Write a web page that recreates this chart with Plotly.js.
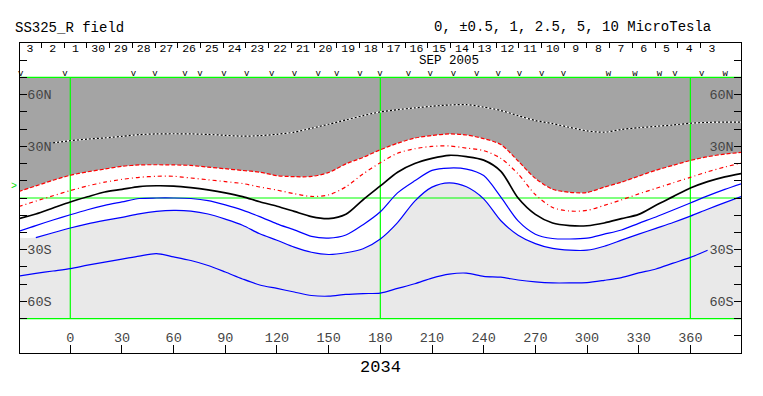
<!DOCTYPE html>
<html><head><meta charset="utf-8">
<script src="https://cdn.plot.ly/plotly-3.0.1.min.js"></script>
<style>html,body{margin:0;padding:0;background:#fff}</style>
</head><body><div id="chart" style="width:763px;height:396px"></div>
<script>
// ---- data (Carrington longitude in degrees, latitude in degrees) ----
const LON = [-30,-20,-10,0,10,20,30,40,50,60,70,80,90,100,110,120,130,140,150,160,170,180,190,200,210,220,230,240,250,260,270,280,290,300,310,320,330,340,350,360,370,380,390];
// +2.5 microTesla contour
const POS_25 = [null,null,32,33.3,34.2,34.9,35.8,36.8,37.2,37.3,37.2,36.9,36.4,35.9,36.2,37,38.2,40.5,42.8,45.3,47.8,50,51.3,52.3,53.3,54,54.2,52.8,50.8,47.8,45,43.2,41,39,38.2,39.8,40.8,41.6,42.4,43.4,43.9,44.1,44.1];
// +1 contour (edge of dark shading)
const POS_10 = [3.8,7,10.3,13.2,15.2,16.8,18.4,19.2,19.3,19.2,18.9,17.9,17,16,15,13,12.4,12.5,14.8,19.8,23.6,28,31.8,34.8,36.3,37.2,36.6,34.5,31,21.5,11.4,5.1,3.3,3.2,6.3,9.2,12.7,16.1,19,21.8,24,25.5,26.5];
// +0.5 contour
const POS_05 = [-5,-1.8,1.3,4.3,7,9.2,10.8,12,12.6,12.6,11.6,10.6,9.5,8.4,6.4,4.6,2.5,0.9,1.8,6.5,14,20.5,26,28.6,30,30.2,29,27.5,23,14,2,-5.5,-7.6,-7.2,-4.3,-1.1,2.4,5.6,8.8,12,15.2,18,20.4];
// neutral line
const ZERO = [-12,-9.3,-5.8,-2.3,0.7,3.5,5,6.6,7.1,6.9,6,4.7,3,0.8,-2.2,-4.8,-7.8,-10.8,-12,-9.5,-1,7,15,20,23,24.8,24,22,15.5,0,-9.5,-14.5,-16,-16.1,-14.5,-12,-9.5,-4.2,0.8,5.8,9.5,12.3,14.3];
// -0.5 contour
const NEG_05 = [-19.4,-16,-12.8,-9.7,-6.8,-4.3,-2.3,-0.3,0,0,-0.3,-1.5,-4,-7,-10.8,-15,-18.5,-22.3,-23.3,-21.5,-15.5,-8,3,10,16,17.4,16.8,13,0.5,-13.3,-21,-23.5,-23.8,-23.3,-21,-18.6,-14.7,-11,-7,-2.9,1.2,5,8.4];
// -1 contour (edge of light shading)
const NEG_10 = [null,-23,-20.2,-17.4,-15,-13,-11.2,-9.2,-7.8,-7.2,-7.6,-9.3,-12.3,-15.8,-20.8,-24.5,-28.5,-31.5,-32.8,-31.8,-29.5,-23.8,-14.3,-1.8,6.3,8.8,6.5,-0.5,-13.2,-21.6,-26.5,-29.3,-30.3,-30.3,-28,-24.5,-21,-17.6,-14.2,-10.5,-6.5,-2.7,1];
// -2.5 contour
const NEG_25 = [-45.3,-43.8,-42.4,-41,-39,-37.2,-35.5,-33.7,-32.3,-34.2,-36.3,-39.2,-43,-47,-50.5,-52.5,-54.6,-56.6,-57,-56,-55.5,-55.2,-52.5,-49.8,-46.5,-44.2,-43.6,-45.5,-46,-47.6,-48.7,-49.3,-49.3,-49.1,-47.8,-46.2,-43.5,-41.2,-37.8,-34.5,-30.3,null,-22.3];

// observation marks along the top strip
const OBS_LON  = [-28.8,-3.1,36.6,49.2,66.6,75.3,89.2,102.4,116.9,130.1,144,154.7,168.2,179.8,196.3,208.9,222.4,236,248.5,260.7,273.7,286.3,312.4,327.9,342,351.1,366.6,380.2];
const OBS_MARK = ['v','v','v','v','v','v','v','v','v','v','v','v','v','v','v','v','v','v','v','v','v','v','w','w','w','v','v','w'];

// calendar day labels (Oct 3 ... Sep 3, 2005)
const DAY_LABELS = ['3','2','1','30','29','28','27','26','25','24','23','22','21','20','19','18','17','16','15','14','13','12','11','10','9','8','7','6','5','4','3'];
const DAY0_LON = -23.4;                 // centre of first day label
const DAY_STEP = 360 / 27.2753;         // degrees per day

const X_TICKS = [0,30,60,90,120,150,180,210,240,270,300,330,360];
const X_TICK_TEXT = X_TICKS.map(String);
const Y_TICKS = [-80,-70,-60,-50,-40,-30,-20,-10,0,10,20,30,40,50,60,70,80];
const Y_TICK_TEXT = ['','','60S','','','30S','','','','','','30N','','','60N','',''];

const GRID_LONS = [0,180,360];
const GRID_LATS = [-70,0,70];
const DATA_LAT = 70;
const B0 = 6.8;
const XR = [-29.2, 389.4];
const YR = [-90, 90];
const DAY_ROW = 86.3, MONTH_ROW = 79.7, OBS_ROW = 72.4;

// ---- derived ----
const FONT = 'Liberation Mono, DejaVu Sans Mono, monospace';
const dayCenters = DAY_LABELS.map((d,i)=>DAY0_LON + i*DAY_STEP);
const dayBounds = DAY_LABELS.slice(0,-1).map((d,i)=>DAY0_LON + (i+0.5)*DAY_STEP);
const firstNeg10 = NEG_10.find(v=>v!==null);
const negFillEdge = NEG_10.map(v=> v===null ? firstNeg10 : v);

const gx=[], gy=[];
GRID_LATS.forEach(l=>{ gx.push(XR[0],XR[1],null); gy.push(l,l,null); });
GRID_LONS.forEach(l=>{ gx.push(l,l,null); gy.push(-DATA_LAT,DATA_LAT,null); });

const sp = {shape:'spline', smoothing:0.8};
const traces = [
  {x:LON, y:LON.map(()=>DATA_LAT), mode:'lines', line:{width:0}, hoverinfo:'skip'},
  {x:LON, y:POS_10, mode:'lines', fill:'tonexty', fillcolor:'#a4a4a4', line:Object.assign({width:0},sp), hoverinfo:'skip'},
  {x:LON, y:negFillEdge, mode:'lines', line:Object.assign({width:0},sp), hoverinfo:'skip'},
  {x:LON, y:LON.map(()=>-DATA_LAT), mode:'lines', fill:'tonexty', fillcolor:'#e9e9e9', line:{width:0}, hoverinfo:'skip'},
  {x:gx, y:gy, mode:'lines', line:{color:'#00ff00', width:1.2}, hoverinfo:'skip'},
  {x:LON, y:POS_25, mode:'lines', line:Object.assign({color:'#ffffff', width:1.2},sp)},
  {x:LON, y:POS_25, mode:'lines', line:Object.assign({color:'#000000', width:1.2, dash:'2px,2px'},sp)},
  {x:LON, y:POS_10, mode:'lines', line:Object.assign({color:'#ff0000', width:1.2, dash:'4px,2px'},sp)},
  {x:LON, y:POS_05, mode:'lines', line:Object.assign({color:'#ff0000', width:1.2, dash:'4px,3px,1px,3px'},sp)},
  {x:LON, y:ZERO, mode:'lines', line:Object.assign({color:'#000000', width:1.7},sp)},
  {x:LON, y:NEG_05, mode:'lines', line:Object.assign({color:'#0000ff', width:1.2},sp)},
  {x:LON, y:NEG_10, mode:'lines', line:Object.assign({color:'#0000ff', width:1.2},sp)},
  {x:LON, y:NEG_25, mode:'lines', line:Object.assign({color:'#0000ff', width:1.2},sp)},
  {x:OBS_LON, y:OBS_LON.map(()=>OBS_ROW), mode:'text', text:OBS_MARK, textposition:'middle center',
   textfont:{family:FONT, size:9, color:'#000'}, hoverinfo:'skip', cliponaxis:false},
  {x:dayCenters, y:dayCenters.map(()=>DAY_ROW), mode:'text', text:DAY_LABELS, textposition:'middle center',
   textfont:{family:FONT, size:11.5, color:'#000'}, hoverinfo:'skip', cliponaxis:false}
];

const layout = {
  width:763, height:396,
  margin:{l:20, r:22, t:43, b:43, pad:0},
  paper_bgcolor:'#ffffff', plot_bgcolor:'#ffffff',
  showlegend:false,
  font:{family:FONT, size:13.5, color:'#000'},
  title:{text:'SS325_R field', x:15/763, xanchor:'left', xref:'container',
         y:1-27.5/396, yanchor:'middle', yref:'container', font:{family:FONT, size:14, color:'#000'}},
  xaxis:{range:XR, showgrid:false, zeroline:false, showline:true, linecolor:'#000', linewidth:1, mirror:true,
         tickmode:'array', tickvals:X_TICKS, ticktext:X_TICK_TEXT, ticks:'inside', ticklen:8, tickcolor:'#000',
         ticklabelposition:'inside', tickfont:{size:13.5},
         title:{text:'2034', font:{family:FONT, size:17}, standoff:15}},
  xaxis2:{range:XR, overlaying:'x', side:'top', anchor:'y', showgrid:false, zeroline:false, showline:false,
          tickmode:'array', tickvals:dayBounds, ticks:'inside', ticklen:5, tickcolor:'#000', showticklabels:false},
  yaxis:{range:YR, showgrid:false, zeroline:false, showline:true, linecolor:'#000', linewidth:1, mirror:true,
         tickmode:'array', tickvals:Y_TICKS, ticktext:Y_TICK_TEXT, ticks:'inside', ticklen:7, tickcolor:'#000',
         ticklabelposition:'inside', tickfont:{size:13.5}},
  yaxis2:{range:YR, overlaying:'y', side:'right', anchor:'x', showgrid:false, zeroline:false, showline:false,
          tickmode:'array', tickvals:Y_TICKS, ticktext:Y_TICK_TEXT, ticks:'inside', ticklen:7, tickcolor:'#000',
          ticklabelposition:'inside', tickfont:{size:13.5}},
  annotations:[
    {text:'0, \u00b10.5, 1, 2.5, 5, 10 MicroTesla', xref:'paper', yref:'paper', x:(431.7-20)/721, y:(353-27.5)/310,
     xanchor:'left', yanchor:'middle', showarrow:false, font:{family:FONT, size:14, color:'#000'}},
    {text:'SEP 2005', xref:'x', yref:'y', x:220, y:MONTH_ROW, xanchor:'center', yanchor:'middle', showarrow:false,
     font:{family:FONT, size:12.5, color:'#000'}},
    {text:'>', xref:'paper', yref:'y', x:0, y:B0, xanchor:'right', yanchor:'middle', xshift:-1, showarrow:false,
     font:{family:FONT, size:10, color:'#00dd00'}}
  ]
};
// dummy trace to activate secondary axes
traces.push({x:[XR[0]], y:[YR[0]], xaxis:'x2', yaxis:'y2', mode:'markers', marker:{opacity:0}, hoverinfo:'skip'});

Plotly.newPlot('chart', traces, layout, {displayModeBar:false, staticPlot:true});
</script></body></html>
